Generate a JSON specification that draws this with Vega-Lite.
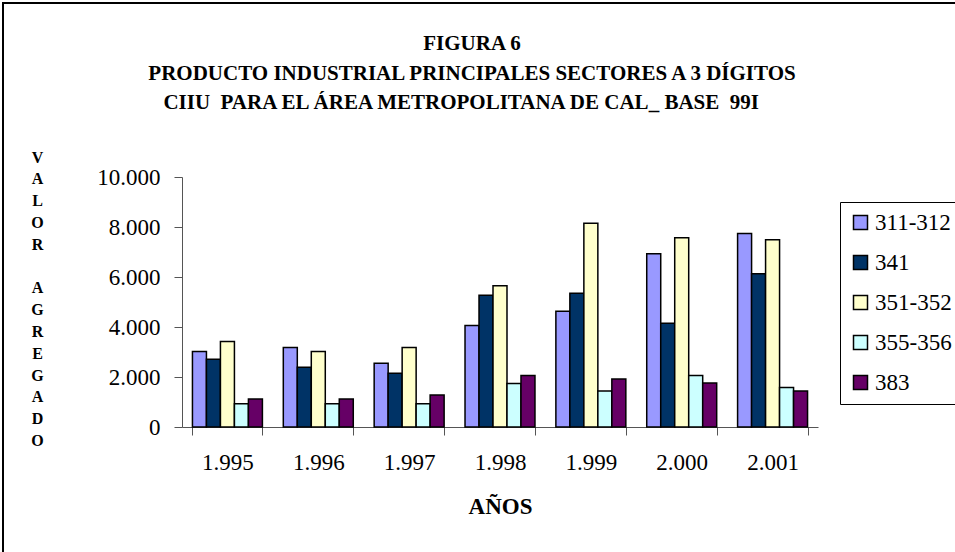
{
  "$schema": "https://vega.github.io/schema/vega-lite/v6.json",
  "width": 958,
  "height": 555,
  "autosize": {"type": "none"},
  "padding": {"left": 3, "top": 3, "right": -6, "bottom": -6},
  "background": "white",
  "title": {
    "text": ["FIGURA 6", "PRODUCTO INDUSTRIAL PRINCIPALES SECTORES A 3 DÍGITOS", "CIIU\u00a0\u00a0PARA EL ÁREA METROPOLITANA DE CAL_ BASE\u00a0\u00a099I\u00a0\u2800"],
    "font": "'Liberation Serif', 'DejaVu Serif', serif",
    "fontSize": 21,
    "fontWeight": "bold",
    "lineHeight": 29.5,
    "anchor": "middle",
    "frame": "group",
    "dx": -10,
    "offset": -110,
    "color": "black"
  },
  "data": {
    "values": [
      {"anio": "1.995", "sector": "311-312", "valor": 3020},
      {"anio": "1.995", "sector": "341", "valor": 2710},
      {"anio": "1.995", "sector": "351-352", "valor": 3420},
      {"anio": "1.995", "sector": "355-356", "valor": 930},
      {"anio": "1.995", "sector": "383", "valor": 1120},
      {"anio": "1.996", "sector": "311-312", "valor": 3180},
      {"anio": "1.996", "sector": "341", "valor": 2390},
      {"anio": "1.996", "sector": "351-352", "valor": 3020},
      {"anio": "1.996", "sector": "355-356", "valor": 930},
      {"anio": "1.996", "sector": "383", "valor": 1120},
      {"anio": "1.997", "sector": "311-312", "valor": 2550},
      {"anio": "1.997", "sector": "341", "valor": 2150},
      {"anio": "1.997", "sector": "351-352", "valor": 3180},
      {"anio": "1.997", "sector": "355-356", "valor": 930},
      {"anio": "1.997", "sector": "383", "valor": 1280},
      {"anio": "1.998", "sector": "311-312", "valor": 4060},
      {"anio": "1.998", "sector": "341", "valor": 5270},
      {"anio": "1.998", "sector": "351-352", "valor": 5650},
      {"anio": "1.998", "sector": "355-356", "valor": 1740},
      {"anio": "1.998", "sector": "383", "valor": 2060},
      {"anio": "1.999", "sector": "311-312", "valor": 4630},
      {"anio": "1.999", "sector": "341", "valor": 5350},
      {"anio": "1.999", "sector": "351-352", "valor": 8150},
      {"anio": "1.999", "sector": "355-356", "valor": 1440},
      {"anio": "1.999", "sector": "383", "valor": 1920},
      {"anio": "2.000", "sector": "311-312", "valor": 6930},
      {"anio": "2.000", "sector": "341", "valor": 4150},
      {"anio": "2.000", "sector": "351-352", "valor": 7570},
      {"anio": "2.000", "sector": "355-356", "valor": 2060},
      {"anio": "2.000", "sector": "383", "valor": 1760},
      {"anio": "2.001", "sector": "311-312", "valor": 7740},
      {"anio": "2.001", "sector": "341", "valor": 6130},
      {"anio": "2.001", "sector": "351-352", "valor": 7490},
      {"anio": "2.001", "sector": "355-356", "valor": 1580},
      {"anio": "2.001", "sector": "383", "valor": 1440}
    ]
  },
  "mark": {"type": "bar", "stroke": "black", "strokeWidth": 1.5},
  "encoding": {
    "x": {
      "field": "anio",
      "type": "nominal",
      "scale": {"range": [179, 815], "paddingInner": 0.23, "paddingOuter": 0.115},
      "axis": {
        "offset": -131,
        "title": "AÑOS",
        "titleFont": "'Liberation Serif', 'DejaVu Serif', serif",
        "titleFontSize": 23,
        "titleFontWeight": "bold",
        "titleColor": "black",
        "titlePadding": 21,
        "labelAngle": 0,
        "labelFont": "'Liberation Serif', 'DejaVu Serif', serif",
        "labelFontSize": 23,
        "labelColor": "black",
        "labelPadding": 16,
        "tickBand": "extent",
        "tickSize": 8,
        "tickColor": "#555",
        "domainColor": "#555",
        "grid": false
      }
    },
    "xOffset": {
      "field": "sector",
      "type": "nominal",
      "scale": {"paddingInner": 0, "paddingOuter": 0}
    },
    "y": {
      "field": "valor",
      "type": "quantitative",
      "scale": {"domain": [0, 10000], "range": [424, 174]},
      "axis": {
        "offset": -179,
        "title": ["V", "A", "L", "O", "R", "\u2800", "A", "G", "R", "E", "G", "A", "D", "O"],
        "titleAngle": 0,
        "titleAlign": "center",
        "titleBaseline": "top",
        "titleX": -145,
        "titleY": 146,
        "titleFont": "'Liberation Serif', 'DejaVu Serif', serif",
        "titleFontSize": 16,
        "titleFontWeight": "bold",
        "titleLineHeight": 21.8,
        "titleColor": "black",
        "values": [0, 2000, 4000, 6000, 8000, 10000],
        "labelExpr": "replace(format(datum.value, ','), ',', '.')",
        "labelFont": "'Liberation Serif', 'DejaVu Serif', serif",
        "labelFontSize": 23,
        "labelColor": "black",
        "labelPadding": 14,
        "tickSize": 8,
        "tickColor": "#555",
        "domainColor": "#555",
        "grid": false
      }
    },
    "color": {
      "field": "sector",
      "type": "nominal",
      "scale": {
        "domain": ["311-312", "341", "351-352", "355-356", "383"],
        "range": ["#9999FF", "#003366", "#FFFFCC", "#CCFFFF", "#660066"]
      },
      "legend": {
        "title": null,
        "orient": "none",
        "legendX": 837,
        "legendY": 199,
        "strokeColor": "black",
        "padding": 9,
        "symbolType": "square",
        "symbolSize": 196,
        "symbolStrokeColor": "black",
        "symbolStrokeWidth": 1.5,
        "symbolOpacity": 1,
        "labelFont": "'Liberation Serif', 'DejaVu Serif', serif",
        "labelFontSize": 23,
        "labelColor": "black",
        "labelOffset": 3,
        "rowPadding": 16
      }
    }
  },
  "config": {
    "view": {"stroke": "black", "strokeWidth": 2}
  }
}
